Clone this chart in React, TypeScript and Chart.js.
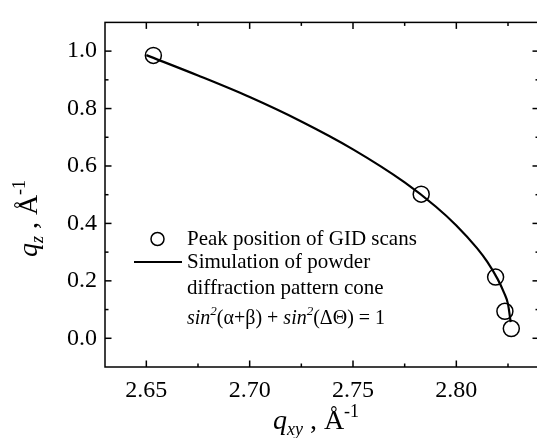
import React, { useEffect, useRef } from "react";
import { Chart, registerables } from "chart.js";

Chart.register(...registerables);

// Axis ranges and ticks
const xRange = [2.63, 2.84];
const yRange = [-0.1, 1.1];
const xTicks = [2.65, 2.7, 2.75, 2.8];
const xMinorTicks = [2.675, 2.725, 2.775, 2.825];
const yTicks = [0.0, 0.2, 0.4, 0.6, 0.8, 1.0];
const yMinorTicks = [0.1, 0.3, 0.5, 0.7, 0.9];

// Peak positions of GID scans (open circles)
const peakQxy = [2.6534, 2.783, 2.819, 2.8235, 2.8266];
const peakQz = [0.985, 0.502, 0.213, 0.094, 0.034];

// Simulated powder diffraction cone (solid line)
const simQxy = [2.65, 2.675, 2.7, 2.725, 2.75, 2.775, 2.79, 2.8, 2.81, 2.815, 2.82, 2.823, 2.825, 2.8263];
const simQz = [0.986, 0.915, 0.84, 0.755, 0.658, 0.543, 0.459, 0.393, 0.314, 0.266, 0.206, 0.16, 0.119, 0.056];

// Legend texts
const legendPeak = "Peak position of GID scans";
const legendSim1 = "Simulation of powder";
const legendSim2 = "diffraction pattern cone";

const SERIF = "'Liberation Serif', 'Times New Roman', serif";

type Run = { t: string; f: string; dy?: number };

function runsWidth(ctx: CanvasRenderingContext2D, runs: Run[]) {
  let w = 0;
  for (const r of runs) {
    ctx.font = r.f;
    w += ctx.measureText(r.t).width;
  }
  return w;
}

function drawRuns(ctx: CanvasRenderingContext2D, runs: Run[], x: number, y: number) {
  let cx = x;
  ctx.textAlign = "left";
  ctx.textBaseline = "alphabetic";
  for (const r of runs) {
    ctx.font = r.f;
    ctx.fillText(r.t, cx, y + (r.dy || 0));
    cx += ctx.measureText(r.t).width;
  }
}

const overlayPlugin = {
  id: "overlay",
  afterDraw(chart: any) {
    const { ctx, chartArea: a, scales } = chart;
    const xs = scales.x;
    const ys = scales.y;
    ctx.save();
    ctx.strokeStyle = "#000";
    ctx.fillStyle = "#000";
    ctx.lineWidth = 1.5;
    ctx.strokeRect(a.left, a.top, a.right - a.left, a.bottom - a.top);

    const seg = (x1: number, y1: number, x2: number, y2: number) => {
      ctx.beginPath();
      ctx.moveTo(x1, y1);
      ctx.lineTo(x2, y2);
      ctx.stroke();
    };
    const major = 6.5;
    const minor = 3.5;
    xTicks.forEach((v) => {
      const p = xs.getPixelForValue(v);
      seg(p, a.bottom, p, a.bottom - major);
      seg(p, a.top, p, a.top + major);
    });
    xMinorTicks.forEach((v) => {
      const p = xs.getPixelForValue(v);
      seg(p, a.bottom, p, a.bottom - minor);
      seg(p, a.top, p, a.top + minor);
    });
    yTicks.forEach((v) => {
      const p = ys.getPixelForValue(v);
      seg(a.left, p, a.left + major, p);
      seg(a.right, p, a.right - major, p);
    });
    yMinorTicks.forEach((v) => {
      const p = ys.getPixelForValue(v);
      seg(a.left, p, a.left + minor, p);
      seg(a.right, p, a.right - minor, p);
    });

    // Axis titles
    const big = `28px ${SERIF}`;
    const bigI = `italic 28px ${SERIF}`;
    const small = `18px ${SERIF}`;
    const smallI = `italic 18px ${SERIF}`;

    const xTitle: Run[] = [
      { t: "q", f: bigI },
      { t: "xy", f: smallI, dy: 6 },
      { t: " , ", f: big },
      { t: "Å", f: big },
      { t: "-1", f: small, dy: -12 },
    ];
    const xw = runsWidth(ctx, xTitle);
    drawRuns(ctx, xTitle, 316 - xw / 2, 429);

    const yTitle: Run[] = [
      { t: "q", f: bigI },
      { t: "z", f: smallI, dy: 6 },
      { t: " , ", f: big },
      { t: "Å", f: big },
      { t: "-1", f: small, dy: -12 },
    ];
    const yw = runsWidth(ctx, yTitle);
    ctx.save();
    ctx.translate(37, 218.5 + yw / 2);
    ctx.rotate(-Math.PI / 2);
    drawRuns(ctx, yTitle, 0, 0);
    ctx.restore();

    // Legend
    ctx.lineWidth = 1.5;
    ctx.beginPath();
    ctx.arc(157.5, 239, 6.5, 0, Math.PI * 2);
    ctx.stroke();
    ctx.lineWidth = 2.2;
    seg(134, 262, 182, 262);

    const lf = `21px ${SERIF}`;
    const lfI = `italic 20px ${SERIF}`;
    const lf2 = `20px ${SERIF}`;
    const sup = `italic 13px ${SERIF}`;
    drawRuns(ctx, [{ t: legendPeak, f: lf }], 187, 245);
    drawRuns(ctx, [{ t: legendSim1, f: lf }], 187, 268);
    drawRuns(ctx, [{ t: legendSim2, f: lf }], 187, 294);
    drawRuns(
      ctx,
      [
        { t: "sin", f: lfI },
        { t: "2", f: sup, dy: -9 },
        { t: "(α+β) + ", f: lf2 },
        { t: "sin", f: lfI },
        { t: "2", f: sup, dy: -9 },
        { t: "(ΔΘ) = 1", f: lf2 },
      ],
      187,
      324
    );
    ctx.restore();
  },
};

export default function App() {
  const ref = useRef<HTMLCanvasElement | null>(null);
  useEffect(() => {
    if (!ref.current) return;
    const chart = new Chart(ref.current, {
      type: "scatter",
      data: {
        datasets: [
          {
            label: "Simulation",
            data: simQxy.map((x, i) => ({ x, y: simQz[i] })),
            showLine: true,
            borderColor: "#000",
            borderWidth: 2.2,
            pointRadius: 0,
            cubicInterpolationMode: "monotone",
            fill: false,
          } as any,
          {
            label: "Peaks",
            data: peakQxy.map((x, i) => ({ x, y: peakQz[i] })),
            showLine: false,
            pointStyle: "circle",
            pointRadius: 8,
            pointBorderWidth: 1.5,
            borderColor: "#000",
            backgroundColor: "rgba(0,0,0,0)",
            pointBackgroundColor: "rgba(0,0,0,0)",
          } as any,
        ],
      },
      options: {
        responsive: false,
        animation: false,
        layout: { padding: { left: 0, top: 14, right: 11, bottom: 0 } },
        plugins: {
          legend: { display: false },
          tooltip: { enabled: false },
        },
        scales: {
          x: {
            type: "linear",
            min: xRange[0],
            max: xRange[1],
            afterBuildTicks: (s: any) => {
              s.ticks = xTicks.map((v) => ({ value: v }));
            },
            afterFit: (s: any) => {
              s.height = 71;
            },
            grid: { display: false, drawTicks: false },
            border: { display: false },
            ticks: {
              autoSkip: false,
              maxRotation: 0,
              padding: 9,
              color: "#000",
              font: { family: SERIF, size: 24 },
              callback: (v: any) => Number(v).toFixed(2),
            },
          },
          y: {
            type: "linear",
            min: yRange[0],
            max: yRange[1],
            afterBuildTicks: (s: any) => {
              s.ticks = yTicks.map((v) => ({ value: v }));
            },
            afterFit: (s: any) => {
              s.width = 105;
            },
            grid: { display: false, drawTicks: false },
            border: { display: false },
            ticks: {
              autoSkip: false,
              padding: 8,
              color: "#000",
              font: { family: SERIF, size: 24 },
              callback: (v: any) => Number(v).toFixed(1),
            },
          },
        },
      } as any,
      plugins: [overlayPlugin],
    });
    return () => chart.destroy();
  }, []);

  return (
    <div
      style={{
        position: "fixed",
        left: 0,
        top: 0,
        width: 537,
        height: 438,
        overflow: "hidden",
        background: "#fff",
      }}
    >
      <canvas ref={ref} width={550} height={438} style={{ display: "block" }} />
    </div>
  );
}
